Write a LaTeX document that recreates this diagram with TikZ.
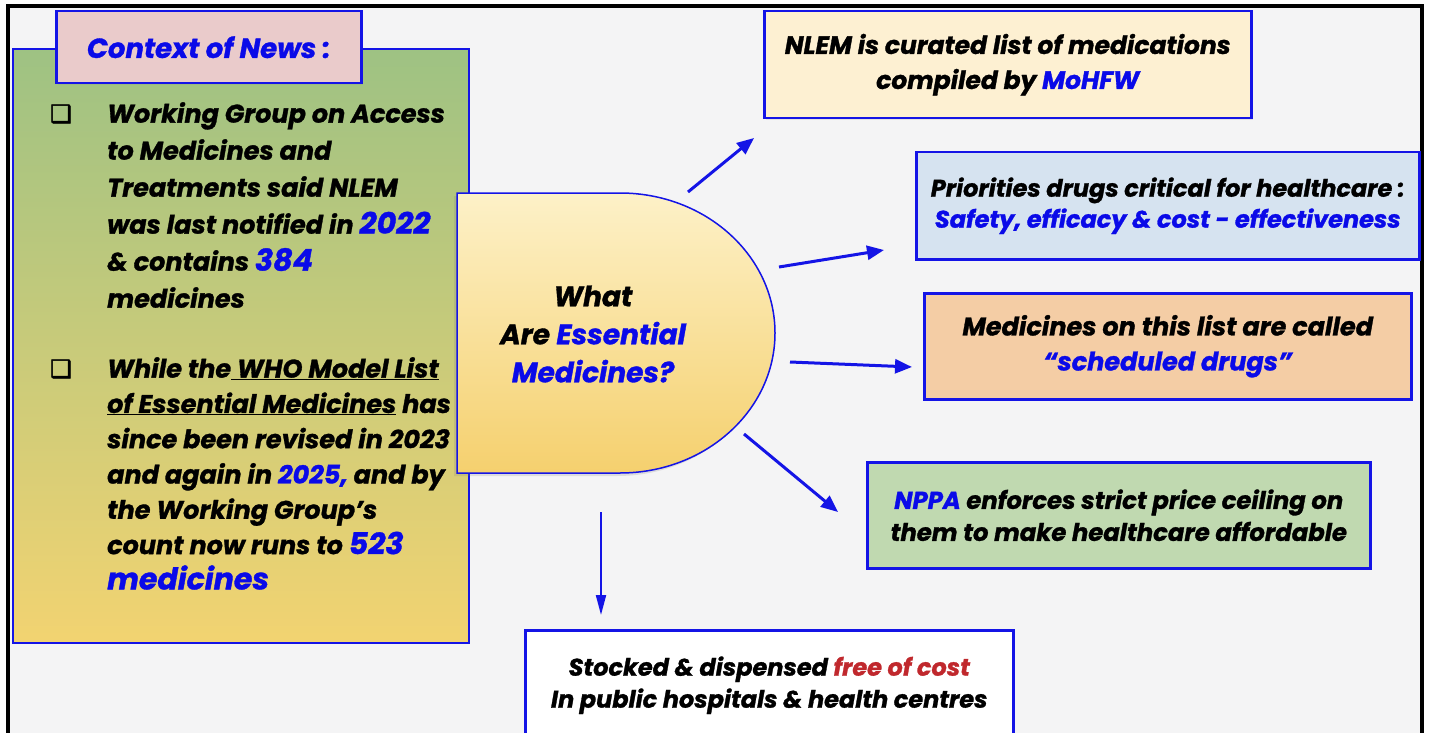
\documentclass[tikz,border=0pt]{standalone}
\usepackage{fontspec}
\setmainfont{Poppins}[BoldItalicFeatures={FakeBold=1.2}]
\newfontfamily\symfont{DejaVu Sans}[FakeBold=2.5]
\usetikzlibrary{arrows.meta,shadows}

\definecolor{bgpaper}{HTML}{F4F4F5}
\definecolor{edgeblue}{HTML}{1414E6}
\definecolor{textblue}{HTML}{0A0AE8}
\definecolor{costred}{HTML}{C0282D}
\definecolor{titlepink}{HTML}{EACBCB}
\definecolor{creamfill}{HTML}{FDF0D2}
\definecolor{skyfill}{HTML}{D6E3F0}
\definecolor{peachfill}{HTML}{F4CDA5}
\definecolor{sagefill}{HTML}{C0D9B0}
\newcommand{\blu}[1]{\textcolor{textblue}{#1}}
\newcommand{\fs}[2]{\fontsize{#1}{#2}\selectfont\bfseries\itshape}

\begin{document}
\begin{tikzpicture}[x=1pt, y=-1pt,
    infobox/.style={draw=edgeblue, line width=2.5pt, anchor=north west, align=center, inner sep=0pt,
        drop shadow={shadow xshift=2pt, shadow yshift=-2pt, opacity=0.15}},
    arr/.style={draw=edgeblue, line width=3pt, -{Triangle[length=17pt,width=14pt]}}]
    \useasboundingbox (0,0) rectangle (1430,733);
    \fill[white] (0,0) rectangle (1430,733);
    \draw[line width=4pt, fill=bgpaper] (8,6) rectangle (1422,760);

    % Context of news panel
    \shade[top color={rgb,255:red,158;green,194;blue,131}, bottom color={rgb,255:red,242;green,211;blue,113},
        draw=edgeblue, line width=2.5pt] (13,49) rectangle (469,643);
    \node[infobox, fill=titlepink, minimum width=305pt, minimum height=72pt, font=\fs{27.5}{30}] (title)
        at (55,10) {\blu{Context of News :}};
    \node[font=\symfont\fontsize{24}{24}\selectfont] (bulA) at (61,114) {❑};
    \node[font=\symfont\fontsize{24}{24}\selectfont] (bulB) at (61,369) {❑};
    \node[anchor=north west, align=left, inner sep=0pt, font=\fs{25.5}{37}] (ctxA) at (107,102)
        {Working Group on Access\\to Medicines and\\Treatments said NLEM\\was last notified in {\fontsize{30}{37}\selectfont\blu{2022}}\\
         \& contains {\fontsize{30}{37}\selectfont\blu{384}}\\medicines};
    \node[anchor=north west, align=left, inner sep=0pt, font=\fs{25.5}{35.3}] (ctxB) at (107,357)
        {While the\underline{ WHO Model List}\\\underline{of Essential Medicines} has\\since been revised in 2023\\
         and again in \blu{2025,} and by\\the Working Group's\\count now runs to {\fontsize{30}{36}\selectfont\blu{523}}\\
         {\fontsize{30}{36}\selectfont\blu{medicines}}};

    % Central question
    \shade[top color={rgb,255:red,253;green,241;blue,200}, bottom color={rgb,255:red,245;green,208;blue,110},
        draw=edgeblue, line width=1.5pt, drop shadow={shadow xshift=-3pt, shadow yshift=-3pt, opacity=0.2}]
        (457,193) -- (620,193) arc[start angle=-90, end angle=90, x radius=155, y radius=140] -- (457,473) -- cycle;
    \node[align=center, font=\fs{28}{38}] (what) at (593,334) {What\\Are \blu{Essential}\\\blu{Medicines?}};

    % Facts
    \node[infobox, fill=creamfill, minimum width=487pt, minimum height=107pt, font=\fs{25}{35}] (nlem)
        at (763,10) {NLEM is curated list of medications\\compiled by \blu{MoHFW}};
    \node[infobox, fill=skyfill, minimum width=503pt, minimum height=107pt, font=\fs{24}{31}] (prio)
        at (915,151) {Priorities drugs critical for healthcare :\\\blu{Safety, efficacy \& cost - effectiveness}};
    \node[infobox, fill=peachfill, minimum width=487pt, minimum height=106pt, font=\fs{25.5}{35}] (sched)
        at (923,292) {Medicines on this list are called\\\blu{``scheduled drugs''}};
    \node[infobox, fill=sagefill, minimum width=503pt, minimum height=106pt, font=\fs{24.3}{32}] (nppa)
        at (866,461) {\blu{NPPA} enforces strict price ceiling on\\them to make healthcare affordable};
    \node[infobox, fill=white, minimum width=488pt, minimum height=110pt, font=\fs{24}{32}] (free)
        at (524,629) {Stocked \& dispensed \textcolor{costred}{free of cost}\\In public hospitals \& health centres};

    % Arrows
    \coordinate (s1) at (688,192); \coordinate (t1) at (754,138);
    \coordinate (s2) at (779,267); \coordinate (t2) at (884,250);
    \coordinate (s3) at (790,362); \coordinate (t3) at (912,367);
    \coordinate (s4) at (744,434); \coordinate (t4) at (838,512);
    \coordinate (s5) at (601,512); \coordinate (t5) at (601,615);
    \draw[arr] (s1) -- (t1);
    \draw[arr] (s2) -- (t2);
    \draw[arr] (s3) -- (t3);
    \draw[arr] (s4) -- (t4);
    \draw[arr, line width=2pt, -{Triangle[length=20pt,width=10pt]}] (s5) -- (t5);
\end{tikzpicture}
\end{document}
